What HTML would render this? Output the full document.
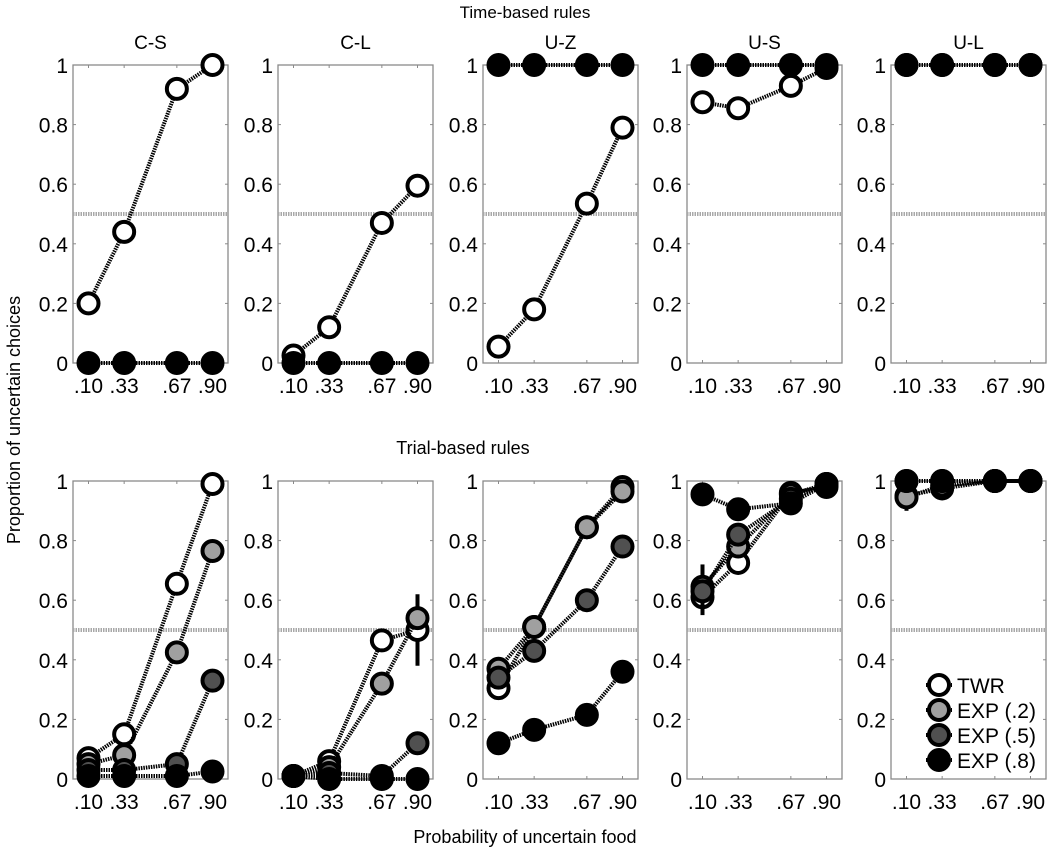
<!DOCTYPE html>
<html><head><meta charset="utf-8"><style>
html,body{margin:0;padding:0;background:#fff;}
svg{display:block;font-family:"Liberation Sans",Arial,sans-serif;}
</style></head><body>
<svg id="fig" width="1050" height="852" viewBox="0 0 1050 852" xmlns="http://www.w3.org/2000/svg">
<text x="525" y="18" font-size="17" text-anchor="middle">Time-based rules</text>
<text x="463" y="454" font-size="18" text-anchor="middle">Trial-based rules</text>
<text x="525" y="843" font-size="18" text-anchor="middle">Probability of uncertain food</text>
<text x="0" y="0" font-size="18" text-anchor="middle" transform="translate(20,420) rotate(-90)">Proportion of uncertain choices</text>
</svg>
<script>
const panelNames = ["C-S","C-L","U-Z","U-S","U-L"];
const xCats = [0.10,0.33,0.67,0.90];
const xTickLabels = [".10",".33",".67",".90"];
const yTicks = [0,0.2,0.4,0.6,0.8,1];
const yTickLabels = ["0","0.2","0.4","0.6","0.8","1"];
const seriesNames = ["TWR","EXP (.2)","EXP (.5)","EXP (.8)"];
const seriesFill = ["#ffffff","#a0a0a0","#505050","#000000"];
// top row (time-based)
const topTWR = [[0.20,0.44,0.92,1.00],[0.025,0.12,0.47,0.595],[0.055,0.18,0.535,0.79],[0.875,0.855,0.93,0.99],[1,1,1,1]];
const topEXP = [[0,0,0,0],[0,0,0,0],[1,1,1,1],[1,1,1,1],[1,1,1,1]];
// bottom row (trial-based)
const botTWR  = [[0.07,0.15,0.655,0.99],[0.01,0.06,0.465,0.50],[0.305,0.51,0.845,0.98],[0.61,0.725,0.96,0.98],[0.95,0.975,1,1]];
const botEXP2 = [[0.05,0.08,0.425,0.765],[0.01,0.04,0.32,0.54],[0.37,0.51,0.845,0.965],[0.645,0.78,0.955,0.99],[0.945,0.985,1,1]];
const botEXP5 = [[0.03,0.03,0.05,0.33],[0.01,0.02,0.01,0.12],[0.34,0.43,0.60,0.78],[0.63,0.82,0.94,0.99],[1,1,1,1]];
const botEXP8 = [[0.01,0.01,0.01,0.025],[0.01,0.0,0.0,0.0],[0.12,0.165,0.215,0.36],[0.955,0.905,0.925,0.99],[1,1,1,1]];
// error bars: [panel, series, xIndex, low, high]
const errBars = [[0,1,3,0.74,0.80],[1,0,3,0.38,0.62],[3,1,0,0.55,0.72],[4,1,0,0.90,0.97]];

const svg = document.getElementById('fig');
const NS = "http://www.w3.org/2000/svg";
const panelLeft = [73,278,483,687,891];
const PW = 155, PH = 298;
const rowTop = [65,481];
function mk(tag, attrs, parent){const e=document.createElementNS(NS,tag);for(const k in attrs)e.setAttribute(k,attrs[k]);(parent||svg).appendChild(e);return e;}
function xS(p,i){return panelLeft[i]+p*PW;}
function yS(v,r){return rowTop[r]+PH-v*PH;}

function drawPanel(r,i,series){
  const g=mk('g',{});
  
  
  const L=panelLeft[i],T=rowTop[r];
  const box=mk('rect',{x:L,y:T,width:PW,height:PH,fill:'none',stroke:'#8a8a8a','stroke-width':1.3},g);
  
  
  xCats.forEach((p,k)=>{
    const x=xS(p,i);
    mk('line',{x1:x,x2:x,y1:T+PH,y2:T+PH-3,stroke:'#8a8a8a'},g);
    mk('line',{x1:x,x2:x,y1:T,y2:T+3,stroke:'#8a8a8a'},g);
    const t=mk('text',{x:x,y:T+PH+30,'font-size':21,'text-anchor':'middle'},g);
    t.textContent=xTickLabels[k];
    
    
  });
  yTicks.forEach((v,k)=>{
    const y=yS(v,r);
    mk('line',{x1:L,x2:L+3,y1:y,y2:y,stroke:'#8a8a8a'},g);
    mk('line',{x1:L+PW,x2:L+PW-3,y1:y,y2:y,stroke:'#8a8a8a'},g);
    const t=mk('text',{x:L-5,y:y+8,'font-size':21,'text-anchor':'end'},g);
    t.textContent=yTickLabels[k];
    
    
  });
  const ref=mk('line',{x1:L,x2:L+PW,y1:yS(0.5,r),y2:yS(0.5,r),stroke:'#a8a8a8','stroke-width':4,'stroke-dasharray':'1.5 1'},g);
  
  
  if(r===0){
    const tt=mk('text',{x:L+PW/2,y:T-16,'font-size':19,'text-anchor':'middle'},g);
    tt.textContent=panelNames[i];
    
    
  }
  const order = r===0 ? [0,1] : [0,1,2,3];
  order.forEach(s=>{
    const vals=series[s], fill=r===0?(s===0?'#fff':'#000'):seriesFill[s];
    const pts=vals.map((v,k)=>xS(xCats[k],i)+','+yS(v,r)).join(' ');
    const pl=mk('polyline',{points:pts,fill:'none',stroke:'#000','stroke-width':4,'stroke-dasharray':'1.5 1'},g);
    
    
    if(r===1){
      errBars.filter(e=>e[0]===i&&e[1]===s).forEach(e=>{
        const x=xS(xCats[e[2]],i);
        const eb=mk('line',{x1:x,x2:x,y1:yS(e[3],r),y2:yS(e[4],r),stroke:'#000','stroke-width':4},g);
        
        
      });
    }
    vals.forEach((v,k)=>{
      const c=mk('circle',{cx:xS(xCats[k],i),cy:yS(v,r),r:(fill==='#000'?12:10),fill:fill,stroke:'#000','stroke-width':fill==='#000'?0:4},g);
      
      
    });
  });
}
for(let i=0;i<5;i++){
  drawPanel(0,i,[topTWR[i],topEXP[i]]);
  drawPanel(1,i,[botTWR[i],botEXP2[i],botEXP5[i],botEXP8[i]]);
}
// legend
const lg=mk('g',{});


seriesNames.forEach((n,k)=>{
  const y=685+k*25;
  const e=mk('g',{},lg);
  
  
  mk('line',{x1:926,x2:952,y1:y,y2:y,stroke:'#000','stroke-width':4,'stroke-dasharray':'1.5 1'},e);
  const f=seriesFill[k];
  mk('circle',{cx:939,cy:y,r:f==='#000'?12:10,fill:f,stroke:'#000','stroke-width':f==='#000'?0:4},e);
  const t=mk('text',{x:957,y:y+8,'font-size':21},e);
  t.textContent=n;
});
</script>
</body></html>
